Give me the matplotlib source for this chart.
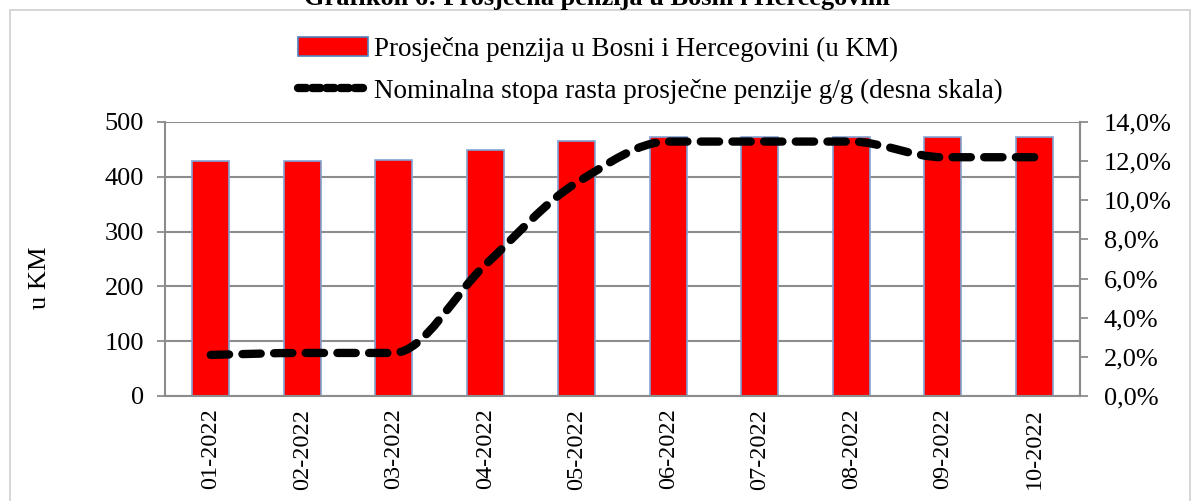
import matplotlib
matplotlib.use("Agg")
import matplotlib.pyplot as plt
import numpy as np
from matplotlib.path import Path
from matplotlib.patches import PathPatch, Rectangle
from matplotlib.lines import Line2D
from matplotlib.ticker import FuncFormatter

months = ["01-2022", "02-2022", "03-2022", "04-2022", "05-2022",
          "06-2022", "07-2022", "08-2022", "09-2022", "10-2022"]
pension = [429, 429, 431, 449, 465, 473, 473, 473, 473, 473]
growth = [2.1, 2.2, 2.2, 6.7, 10.9, 13.0, 13.0, 13.0, 12.2, 12.2]

bar_label = "Prosječna penzija u Bosni i Hercegovini (u KM)"
line_label = "Nominalna stopa rasta prosječne penzije g/g (desna skala)"
title = "Grafikon 6: Prosječna penzija u Bosni i Hercegovini"

plt.rcParams['font.family'] = ['Liberation Serif', 'DejaVu Serif']
grid_c = '#8c8c8c'
FS = 19
W, H = 1192, 501

fig = plt.figure(figsize=(W / 100, H / 100), dpi=100)
ax = fig.add_axes([165/W, 1 - 396/H, (1080-165)/W, (396-122)/H])
ax2 = ax.twinx()

x = np.arange(len(months))
ax.bar(x, pension, width=0.4, color='#ff0000', edgecolor='#7fa3d4', linewidth=1.2, zorder=2)
ax.set_ylim(0, 500)
ax.set_xlim(-0.5, len(months) - 0.5)
ax.set_yticks(range(0, 501, 100))
ax.yaxis.grid(True, color=grid_c, linewidth=1.5, zorder=0)
ax.set_axisbelow(True)
ax.set_xticks(x)
ax.set_xticklabels(months, rotation=90, fontsize=17.5)
ax.tick_params(axis='x', length=0, pad=9)
ax.tick_params(axis='y', labelsize=FS, length=6, color=grid_c, width=1.3, direction='out', pad=9)
ax.spines['top'].set_visible(False)
for s in ['left', 'bottom', 'right']:
    ax.spines[s].set_color(grid_c)
    ax.spines[s].set_linewidth(1.5)
fig.text(40/W, 1 - 278/H, "u KM", rotation=90, ha='center', va='center', fontsize=FS)

# smooth monotone curve (Fritsch-Carlson tangents -> Bezier) through the data points
xs = x.astype(float)
ys = np.array(growth, dtype=float)
d = np.diff(ys) / np.diff(xs)
m = np.zeros_like(ys)
m[0], m[-1] = d[0], d[-1]
for i in range(1, len(ys) - 1):
    if d[i - 1] * d[i] <= 0:
        m[i] = 0.0
    else:
        m[i] = 2.0 / (1.0 / d[i - 1] + 1.0 / d[i])
verts = [(xs[0], ys[0])]
codes = [Path.MOVETO]
for i in range(len(ys) - 1):
    h = xs[i + 1] - xs[i]
    verts += [(xs[i] + h / 3, ys[i] + m[i] * h / 3),
              (xs[i + 1] - h / 3, ys[i + 1] - m[i + 1] * h / 3),
              (xs[i + 1], ys[i + 1])]
    codes += [Path.CURVE4] * 3
patch = PathPatch(Path(verts, codes), facecolor='none', edgecolor='black', linewidth=6,
                  linestyle=(0, (2.2, 1.6)), zorder=5)
patch.set_capstyle('round')
ax2.add_patch(patch)
ax2.set_ylim(0, 14)
ax2.set_yticks(np.arange(0, 14.01, 2))
ax2.yaxis.set_major_formatter(FuncFormatter(lambda v, p: f"{v:.1f}%".replace('.', ',')))
ax2.tick_params(axis='y', labelsize=FS, length=6, color=grid_c, width=1.3, direction='out', pad=11)
for s in ['top', 'left', 'bottom']:
    ax2.spines[s].set_visible(False)
ax2.spines['right'].set_color(grid_c)
ax2.spines['right'].set_linewidth(1.5)

# legend
h1 = Rectangle((0, 0), 1, 1, facecolor='#ff0000', edgecolor='#4f81bd', linewidth=1.2)
h2 = Line2D([], [], color='black', linewidth=6, linestyle=(0, (1.0, 0.7)), dash_capstyle='round')
fig.legend([h1, h2], [bar_label, line_label], loc='upper left',
           bbox_to_anchor=(298/W, 1 - 37/H), ncol=1, frameon=False, fontsize=19.5,
           handlelength=2.6, handletextpad=0.2, labelspacing=0.6,
           borderaxespad=0, borderpad=0)

# outer frame
fig.patches.append(Rectangle((10/W, -0.01), 1180/W, 1 - 10/H + 0.01,
                             transform=fig.transFigure, facecolor='none',
                             edgecolor='#d0d0d0', linewidth=1.2))

fig.text(597/W, 1 - 5/H, title, ha='center', va='baseline', fontsize=FS, fontweight='bold')

fig.savefig("out.png", dpi=100)
